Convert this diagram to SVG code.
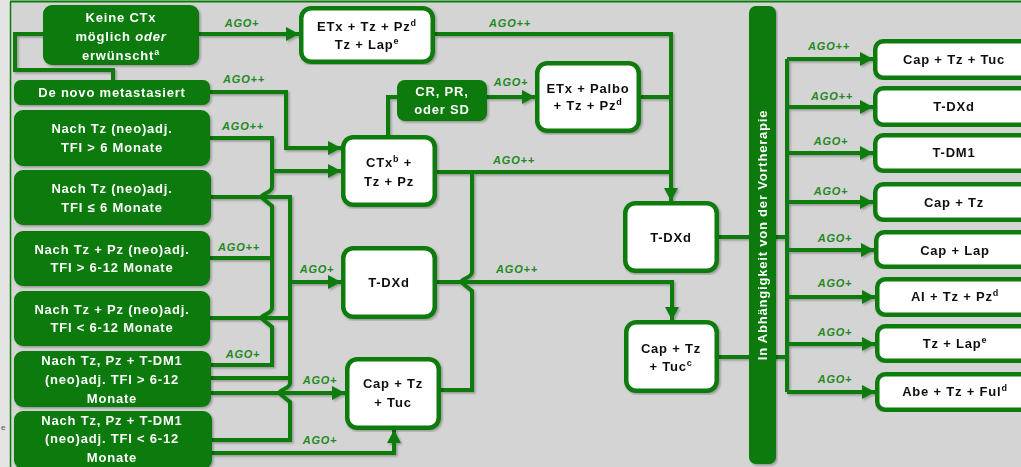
<svg xmlns="http://www.w3.org/2000/svg" width="1021" height="467" viewBox="0 0 1021 467">
<defs>
<style>
.bg{fill:#d4d4d4}
.gbox{fill:#077a07}
.wbox{fill:#fff;stroke:#0b7b0b;stroke-width:4.5}
.ln{fill:none;stroke:#0b7b0b;stroke-width:4;stroke-linejoin:miter}
.arr{fill:none;stroke:#0b7b0b;stroke-width:4;marker-end:url(#ah)}
.wt{font-family:"Liberation Sans",Arial,sans-serif;font-weight:bold;font-size:13px;letter-spacing:0.8px;fill:#fff;text-anchor:middle}
.bt{font-family:"Liberation Sans",Arial,sans-serif;font-weight:bold;font-size:13px;letter-spacing:0.8px;fill:#111;text-anchor:middle}
.ago{font-family:"Liberation Sans",Arial,sans-serif;font-weight:bold;font-style:italic;font-size:11px;letter-spacing:0.8px;fill:#1f8a1f;text-anchor:middle}
.sup{font-size:9px}
</style>
<marker id="ah" markerUnits="userSpaceOnUse" markerWidth="14" markerHeight="14" refX="13" refY="7" orient="auto">
<path d="M0,0 L13,7 L0,14 z" fill="#0b7b0b"/>
</marker>
<filter id="sh" x="-5%" y="-5%" width="110%" height="110%">
<feDropShadow dx="1.5" dy="1.5" stdDeviation="1" flood-color="#000" flood-opacity="0.3"/>
</filter>
</defs>

<rect x="0" y="0" width="1021" height="467" fill="#e4e4e4"/>
<rect class="bg" x="10" y="2" width="1011" height="465"/>
<line x1="10" y1="1.5" x2="1021" y2="1.5" stroke="#0b7b0b" stroke-width="2"/>
<line x1="10.5" y1="2" x2="10.5" y2="467" stroke="#0b7b0b" stroke-width="1.5"/>
<text x="1" y="430" font-family="Liberation Sans, sans-serif" font-size="8" fill="#555">e</text>

<g id="connectors" filter="url(#sh)">
<path class="arr" d="M199,34 H299"/>
<path class="ln" d="M43,34 H15 V70 H113 V80"/>
<path class="arr" d="M210,92 H286 V148 H341"/>
<path class="ln" d="M210,138 H272 V187 C272,193 262,193 261,197 L272,206 V308 C272,314 262,314 261,318 L272,327 V365 H211"/>
<path class="arr" d="M272,171 H341"/>
<path class="ln" d="M210,258 H272"/>
<path class="ln" d="M211,197 H290 V383 C290,389 280,389 279,393 L290,402 V440 H212"/>
<path class="arr" d="M290,282 H341"/>
<path class="ln" d="M210,318 H290"/>
<path class="ln" d="M211,378 H290"/>
<path class="arr" d="M211,393 H345"/>
<path class="arr" d="M212,453 H394 V430"/>
<path class="arr" d="M435,34 H671 V201"/>
<path class="ln" d="M641,97 H671"/>
<path class="ln" d="M437,172 H671"/>
<path class="ln" d="M388,135 V97 H397"/>
<path class="arr" d="M487,97 H535"/>
<path class="ln" d="M472,172 V272 C472,278 462,278 461,282 L472,291 V390 H441"/>
<path class="arr" d="M437,282 H672 V320"/>
<path class="ln" d="M719,237 H787"/>
<path class="ln" d="M719,357 H787"/>
<path class="ln" d="M787,59 V392"/>
<path class="arr" d="M787,59 H873"/>
<path class="arr" d="M787,107 H873"/>
<path class="arr" d="M787,153 H873"/>
<path class="arr" d="M787,202 H873"/>
<path class="arr" d="M787,250 H874"/>
<path class="arr" d="M787,297 H875"/>
<path class="arr" d="M787,344 H875"/>
<path class="arr" d="M787,392 H875"/>
</g>

<g id="labels">
<text class="ago" x="242" y="27">AGO+</text>
<text class="ago" x="510" y="27">AGO++</text>
<text class="ago" x="244" y="83">AGO++</text>
<text class="ago" x="511" y="86">AGO+</text>
<text class="ago" x="243" y="130">AGO++</text>
<text class="ago" x="514" y="164">AGO++</text>
<text class="ago" x="239" y="251">AGO++</text>
<text class="ago" x="317" y="273">AGO+</text>
<text class="ago" x="517" y="273">AGO++</text>
<text class="ago" x="243" y="358">AGO+</text>
<text class="ago" x="320" y="384">AGO+</text>
<text class="ago" x="320" y="444">AGO+</text>
<text class="ago" x="829" y="50">AGO++</text>
<text class="ago" x="832" y="100">AGO++</text>
<text class="ago" x="831" y="145">AGO+</text>
<text class="ago" x="831" y="195">AGO+</text>
<text class="ago" x="835" y="242">AGO+</text>
<text class="ago" x="835" y="287">AGO+</text>
<text class="ago" x="835" y="336">AGO+</text>
<text class="ago" x="835" y="383">AGO+</text>
</g>

<g id="n-keine" filter="url(#sh)"><rect class="gbox" x="43" y="5" width="156" height="60" rx="9"/>
<text class="wt" x="121" y="22">Keine CTx</text>
<text class="wt" x="121" y="41">möglich <tspan font-style="italic">oder</tspan></text>
<text class="wt" x="121" y="60">erwünscht<tspan class="sup" dy="-5">a</tspan></text></g>

<g id="n-denovo" filter="url(#sh)"><rect class="gbox" x="14" y="80" width="196" height="25" rx="7"/>
<text class="wt" x="112" y="97">De novo metastasiert</text></g>

<g id="n-tz-gt6" filter="url(#sh)"><rect class="gbox" x="14" y="110" width="196" height="56" rx="9"/>
<text class="wt" x="112" y="133">Nach Tz (neo)adj.</text>
<text class="wt" x="112" y="152">TFI &gt; 6 Monate</text></g>

<g id="n-tz-le6" filter="url(#sh)"><rect class="gbox" x="14" y="170" width="197" height="55" rx="9"/>
<text class="wt" x="112" y="193">Nach Tz (neo)adj.</text>
<text class="wt" x="112" y="212">TFI ≤ 6 Monate</text></g>

<g id="n-tzpz-gt" filter="url(#sh)"><rect class="gbox" x="14" y="231" width="196" height="55" rx="9"/>
<text class="wt" x="112" y="254">Nach Tz + Pz (neo)adj.</text>
<text class="wt" x="112" y="272">TFI &gt; 6-12 Monate</text></g>

<g id="n-tzpz-lt" filter="url(#sh)"><rect class="gbox" x="14" y="291" width="196" height="55" rx="9"/>
<text class="wt" x="112" y="314">Nach Tz + Pz (neo)adj.</text>
<text class="wt" x="112" y="332">TFI &lt; 6-12 Monate</text></g>

<g id="n-tdm1-gt" filter="url(#sh)"><rect class="gbox" x="14" y="351" width="197" height="56" rx="9"/>
<text class="wt" x="112" y="365">Nach Tz, Pz + T-DM1</text>
<text class="wt" x="112" y="384">(neo)adj. TFI &gt; 6-12</text>
<text class="wt" x="112" y="403">Monate</text></g>

<g id="n-tdm1-lt" filter="url(#sh)"><rect class="gbox" x="14" y="411" width="198" height="58" rx="9"/>
<text class="wt" x="112" y="425">Nach Tz, Pz + T-DM1</text>
<text class="wt" x="112" y="443">(neo)adj. TFI &lt; 6-12</text>
<text class="wt" x="112" y="462">Monate</text></g>

<g id="n-etx" filter="url(#sh)"><rect class="wbox" x="301.25" y="8.25" width="131.5" height="53.5" rx="10"/>
<text class="bt" x="367" y="31">ETx + Tz + Pz<tspan class="sup" dy="-5">d</tspan></text>
<text class="bt" x="367" y="49">Tz + Lap<tspan class="sup" dy="-5">e</tspan></text></g>

<g id="n-cr" filter="url(#sh)"><rect class="gbox" x="397" y="80" width="90" height="41" rx="8"/>
<text class="wt" x="442" y="96">CR, PR,</text>
<text class="wt" x="442" y="114">oder SD</text></g>

<g id="n-palbo" filter="url(#sh)"><rect class="wbox" x="537.25" y="63.25" width="101.5" height="67.5" rx="10"/>
<text class="bt" x="588" y="93">ETx + Palbo</text>
<text class="bt" x="588" y="110">+ Tz + Pz<tspan class="sup" dy="-5">d</tspan></text></g>

<g id="n-ctx" filter="url(#sh)"><rect class="wbox" x="343.25" y="137.25" width="91.5" height="67.5" rx="10"/>
<text class="bt" x="389" y="167">CTx<tspan class="sup" dy="-5">b</tspan><tspan dy="5"> +</tspan></text>
<text class="bt" x="389" y="186">Tz + Pz</text></g>

<g id="n-tdxd1" filter="url(#sh)"><rect class="wbox" x="343.25" y="248.25" width="91.5" height="68.5" rx="10"/>
<text class="bt" x="389" y="287">T-DXd</text></g>

<g id="n-captuc1" filter="url(#sh)"><rect class="wbox" x="347.25" y="359.25" width="91.5" height="68.5" rx="10"/>
<text class="bt" x="393" y="388">Cap + Tz</text>
<text class="bt" x="393" y="407">+ Tuc</text></g>

<g id="n-tdxd2" filter="url(#sh)"><rect class="wbox" x="625.25" y="203.25" width="91.5" height="67.5" rx="10"/>
<text class="bt" x="671" y="242">T-DXd</text></g>

<g id="n-captuc2" filter="url(#sh)"><rect class="wbox" x="626.25" y="322.25" width="90.5" height="68.5" rx="10"/>
<text class="bt" x="671" y="353">Cap + Tz</text>
<text class="bt" x="671" y="371">+ Tuc<tspan class="sup" dy="-5">c</tspan></text></g>

<g id="n-bar" filter="url(#sh)"><rect class="gbox" x="749" y="6" width="27" height="458" rx="7"/>
<text class="wt" transform="translate(767,235) rotate(-90)" x="0" y="0">In Abhängigkeit von der Vortherapie</text></g>

<g id="n-r1" filter="url(#sh)"><rect class="wbox" x="875.25" y="41.25" width="160" height="36.5" rx="8"/>
<text class="bt" x="954" y="64">Cap + Tz + Tuc</text></g>
<g id="n-r2" filter="url(#sh)"><rect class="wbox" x="875.25" y="88.25" width="160" height="36.5" rx="8"/>
<text class="bt" x="954" y="111">T-DXd</text></g>
<g id="n-r3" filter="url(#sh)"><rect class="wbox" x="875.25" y="135.25" width="160" height="35.5" rx="8"/>
<text class="bt" x="954" y="157">T-DM1</text></g>
<g id="n-r4" filter="url(#sh)"><rect class="wbox" x="875.25" y="184.25" width="160" height="35.5" rx="8"/>
<text class="bt" x="954" y="207">Cap + Tz</text></g>
<g id="n-r5" filter="url(#sh)"><rect class="wbox" x="876.25" y="232.25" width="160" height="34.5" rx="8"/>
<text class="bt" x="955" y="255">Cap + Lap</text></g>
<g id="n-r6" filter="url(#sh)"><rect class="wbox" x="877.25" y="279.25" width="160" height="35.5" rx="8"/>
<text class="bt" x="955" y="301">AI + Tz + Pz<tspan class="sup" dy="-5">d</tspan></text></g>
<g id="n-r7" filter="url(#sh)"><rect class="wbox" x="877.25" y="326.25" width="160" height="34.5" rx="8"/>
<text class="bt" x="955" y="348">Tz + Lap<tspan class="sup" dy="-5">e</tspan></text></g>
<g id="n-r8" filter="url(#sh)"><rect class="wbox" x="877.25" y="374.25" width="160" height="35.5" rx="8"/>
<text class="bt" x="955" y="396">Abe + Tz + Ful<tspan class="sup" dy="-5">d</tspan></text></g>
</svg>
